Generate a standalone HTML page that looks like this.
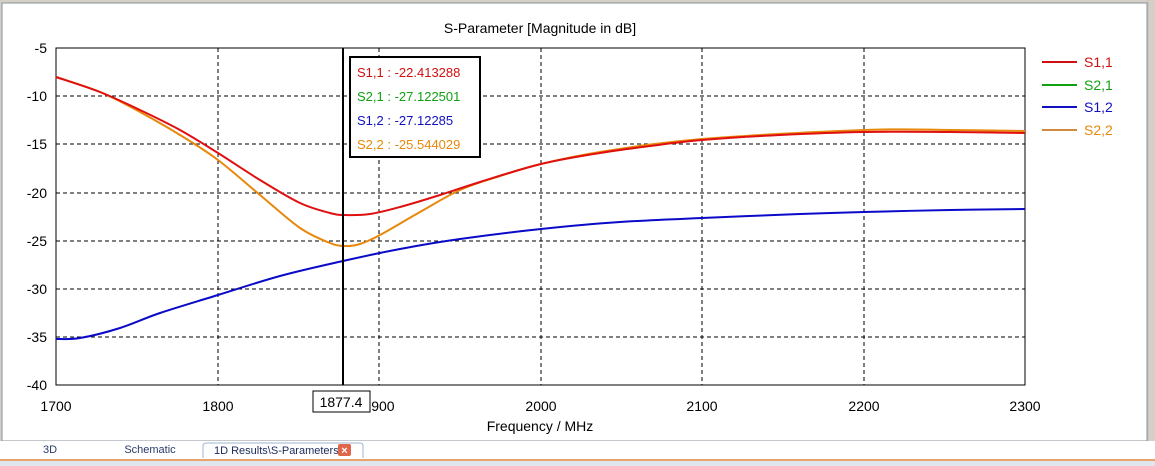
<!DOCTYPE html>
<html><head><meta charset="utf-8"><style>
html,body{margin:0;padding:0;background:#fff;}
body{width:1155px;height:466px;overflow:hidden;position:relative;font-family:"Liberation Sans",sans-serif;}
</style></head><body>
<svg width="1155" height="466" xmlns="http://www.w3.org/2000/svg" style="position:absolute;left:0;top:0" font-family="Liberation Sans, sans-serif">
<rect x="0" y="0" width="1155" height="466" fill="#d4d0c8"/>
<rect x="2" y="3" width="1145" height="438" fill="#fff" stroke="#8a8f99"/>
<rect x="0" y="441" width="1155" height="18" fill="#fff"/>
<rect x="0" y="459" width="1155" height="2" fill="#e8a36a"/>
<rect x="0" y="461" width="1155" height="5" fill="#dfe6ee"/>
<line x1="1148" y1="0" x2="1148" y2="441" stroke="#c0c0c0"/>
<path d="M203 458 L203 446 Q203 443 207 443 L360 443 Q363 443 363 446 L363 458" fill="#fff" stroke="#9db4d0"/>
<text x="50" y="453" font-size="11" fill="#2a3a6a" text-anchor="middle">3D</text>
<text x="150" y="453" font-size="11" fill="#2a3a6a" text-anchor="middle">Schematic</text>
<text x="214" y="454" font-size="11" fill="#1a2a5a">1D Results\S-Parameters</text>
<rect x="338" y="444" width="13" height="12" rx="2" fill="#e0664a"/>
<text x="344.5" y="454" font-size="11" fill="#fff" text-anchor="middle" font-weight="bold">×</text>

<text x="540" y="33" font-size="14" text-anchor="middle">S-Parameter [Magnitude in dB]</text>
<g stroke="#000" stroke-dasharray="4,3" stroke-width="1">
<line x1="56" y1="96" x2="1025" y2="96"/><line x1="56" y1="144" x2="1025" y2="144"/>
<line x1="56" y1="193" x2="1025" y2="193"/><line x1="56" y1="241" x2="1025" y2="241"/>
<line x1="56" y1="289" x2="1025" y2="289"/><line x1="56" y1="337" x2="1025" y2="337"/>
<line x1="218" y1="48" x2="218" y2="385"/><line x1="379" y1="48" x2="379" y2="385"/>
<line x1="541" y1="48" x2="541" y2="385"/><line x1="702" y1="48" x2="702" y2="385"/>
<line x1="864" y1="48" x2="864" y2="385"/>
</g>
<rect x="56" y="48" width="969" height="337" fill="none" stroke="#000"/>
<g font-size="14" text-anchor="end">
<text x="47" y="53">-5</text><text x="47" y="101">-10</text><text x="47" y="149">-15</text>
<text x="47" y="198">-20</text><text x="47" y="246">-25</text><text x="47" y="294">-30</text>
<text x="47" y="342">-35</text><text x="47" y="390">-40</text>
</g>
<g font-size="14" text-anchor="middle">
<text x="56" y="411">1700</text><text x="218" y="411">1800</text><text x="379" y="411">1900</text>
<text x="541" y="411">2000</text><text x="702" y="411">2100</text><text x="864" y="411">2200</text><text x="1025" y="411">2300</text>
<text x="540" y="431">Frequency / MHz</text>
</g>
<g fill="none" stroke-width="2" stroke-linejoin="round">
<path id="pb" stroke="#0a0ac8" data-p="56,339 80,338 120,328 160,313 218,295 280,276 343,261 400,249 460,239 541,229 620,222 702,218 800,214 864,212 950,210 1025,209"/>
<path id="po" stroke="#e8880a" data-p="56,77 100,92 140,112 180,135 218,160 260,195 300,228 330,243 345,246 360,244 380,235 420,212 460,190 500,176 541,164 600,152 702,139 864,130 950,130 1025,131"/>
<path id="pr" stroke="#e01010" data-p="56,77 100,92 140,110 180,130 218,153 260,180 300,203 330,213 345,215 370,214 400,207 440,195 480,182 541,164 600,153 650,146 702,140 780,135 864,132 950,132 1025,133"/>
</g>
<line x1="343" y1="48" x2="343" y2="385" stroke="#000" stroke-width="2"/>
<rect x="313" y="391" width="57" height="21" fill="#fff" stroke="#000"/>
<text x="341" y="407" font-size="14" text-anchor="middle">1877.4</text>
<rect x="350" y="57" width="130" height="100" fill="#fff" stroke="#000" stroke-width="2"/>
<g font-size="13">
<text x="357" y="77" fill="#d01010">S1,1 : -22.413288</text>
<text x="357" y="101" fill="#10a010">S2,1 : -27.122501</text>
<text x="357" y="125" fill="#1010c0">S1,2 : -27.12285</text>
<text x="357" y="149" fill="#e8880a">S2,2 : -25.544029</text>
</g>
<g stroke-width="2">
<line x1="1042" y1="62" x2="1077" y2="62" stroke="#d01010"/>
<line x1="1042" y1="85" x2="1077" y2="85" stroke="#10a010"/>
<line x1="1042" y1="107" x2="1077" y2="107" stroke="#1010c0"/>
<line x1="1042" y1="130" x2="1077" y2="130" stroke="#d08a40"/>
</g>
<g font-size="14">
<text x="1084" y="67" fill="#d01010">S1,1</text>
<text x="1084" y="90" fill="#10a010">S2,1</text>
<text x="1084" y="112" fill="#1010c0">S1,2</text>
<text x="1084" y="135" fill="#e8880a">S2,2</text>
</g>
</svg>
<script>
['pb','po','pr'].forEach(function(id){
 var el=document.getElementById(id);
 var p=el.getAttribute('data-p').split(' ').map(function(s){return s.split(',').map(Number);});
 var d='M'+p[0][0]+' '+p[0][1];
 for(var i=0;i<p.length-1;i++){
  var p0=p[i-1]||p[i],p1=p[i],p2=p[i+1],p3=p[i+2]||p2;
  var c1x=p1[0]+(p2[0]-p0[0])/6,c1y=p1[1]+(p2[1]-p0[1])/6;
  var c2x=p2[0]-(p3[0]-p1[0])/6,c2y=p2[1]-(p3[1]-p1[1])/6;
  d+=' C'+c1x.toFixed(1)+' '+c1y.toFixed(1)+' '+c2x.toFixed(1)+' '+c2y.toFixed(1)+' '+p2[0]+' '+p2[1];
 }
 el.setAttribute('d',d);
 el.removeAttribute('data-p');
});
</script>
</body></html>
